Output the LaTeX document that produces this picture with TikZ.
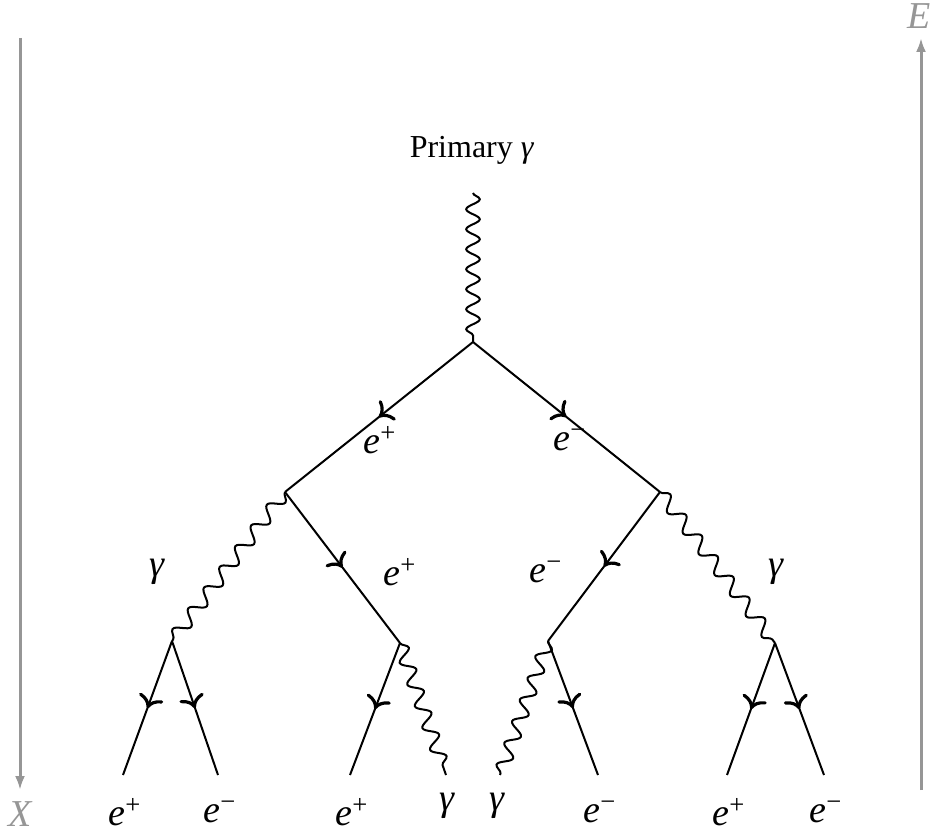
\documentclass[tikz,border=0pt]{standalone}
\usepackage{fontspec}
\setmainfont{Liberation Serif}[Extension=.ttf, UprightFont=LiberationSerif-Regular, ItalicFont=LiberationSerif-Italic, BoldFont=LiberationSerif-Bold, BoldItalicFont=LiberationSerif-BoldItalic]
\usetikzlibrary{decorations.pathmorphing,decorations.markings,arrows.meta}
\definecolor{axisgray}{RGB}{150,150,150}
\tikzset{
  fermion/.style={line width=1pt, postaction={decorate},
    decoration={markings, mark=at position 0.5 with {\arrow[scale=1.6]{>}}}},
  photon/.style={line width=1pt, decorate,
    decoration={snake, amplitude=3.4pt, segment length=#1}},
  photon/.default=12pt,
  axisarrow/.style={draw=axisgray, line width=1.5pt, -{Latex[length=7pt,width=5pt]}},
  lbl/.style={font=\fontsize{19}{22}\selectfont, text=black, inner sep=0pt},
  ttl/.style={font=\fontsize{16}{19}\selectfont, text=black, inner sep=0pt},
  axlbl/.style={font=\fontsize{19}{22}\selectfont\itshape, text=axisgray, inner sep=0pt},
}
\newcommand{\eplus}{\textit{e}\textsuperscript{+}}
\newcommand{\eminus}{\textit{e}\textsuperscript{−}}
\newcommand{\gam}{\textit{γ}}
\begin{document}
\begin{tikzpicture}[x=0.5pt,y=-0.5pt]
\useasboundingbox (0,0) rectangle (933,834);
% axes
\coordinate (xtop) at (20,38);
\coordinate (xbot) at (20,790);
\draw[axisarrow] (xtop) -- (xbot);
\node[axlbl] (xl) at (20,814) {X};
\coordinate (ebot) at (921,790);
\coordinate (etop) at (921,38);
\draw[axisarrow] (ebot) -- (etop);
\node[axlbl] (el) at (919,16) {E};
% vertices
\coordinate (top) at (473,193);
\coordinate (v0) at (473,342);
\coordinate (vl) at (285,492);
\coordinate (vr) at (660,492);
\coordinate (vll) at (172,641);
\coordinate (vlr) at (400,643);
\coordinate (vrl) at (548,641);
\coordinate (vrr) at (775,643);
% ends
\coordinate (a1) at (123,775);
\coordinate (a2) at (218,775);
\coordinate (a3) at (350,775);
\coordinate (a4) at (446,775);
\coordinate (a5) at (500,775);
\coordinate (a6) at (598,775);
\coordinate (a7) at (727,775);
\coordinate (a8) at (824,775);
% title
\node[ttl] (prim) at (472,150) {Primary \gam};
% lines
\draw[photon=10pt] (top) -- (v0);
\draw[fermion] (v0) -- (vl);
\draw[fermion] (v0) -- (vr);
\draw[photon=13pt] (vl) -- (vll);
\draw[fermion] (vl) -- (vlr);
\draw[photon=13pt] (vr) -- (vrr);
\draw[fermion] (vr) -- (vrl);
\draw[fermion] (vll) -- (a1);
\draw[fermion] (vll) -- (a2);
\draw[fermion] (vlr) -- (a3);
\draw[photon=11.5pt] (vlr) -- (a4);
\draw[photon=11.5pt] (vrl) -- (a5);
\draw[fermion] (vrl) -- (a6);
\draw[fermion] (vrr) -- (a7);
\draw[fermion] (vrr) -- (a8);
% labels
\node[lbl] (l1) at (380,440) {\eplus};
\node[lbl] (l2) at (570,440) {\eminus};
\node[lbl] (l3) at (157,572) {\gam};
\node[lbl] (l4) at (400,572) {\eplus};
\node[lbl] (l5) at (546,572) {\eminus};
\node[lbl] (l6) at (776,572) {\gam};
\node[lbl] (b1) at (125,812) {\eplus};
\node[lbl] (b2) at (220,812) {\eminus};
\node[lbl] (b3) at (352,812) {\eplus};
\node[lbl] (b4) at (447,806) {\gam};
\node[lbl] (b5) at (497,806) {\gam};
\node[lbl] (b6) at (600,812) {\eminus};
\node[lbl] (b7) at (729,812) {\eplus};
\node[lbl] (b8) at (826,812) {\eminus};
\end{tikzpicture}
\end{document}
